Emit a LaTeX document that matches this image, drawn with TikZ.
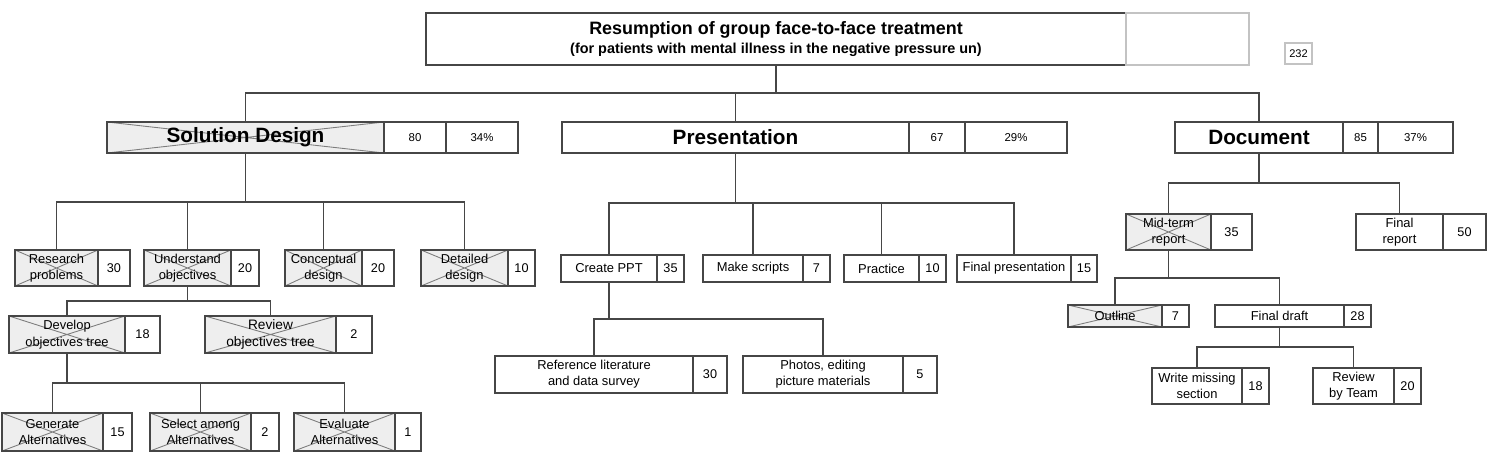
\documentclass[tikz,border=0pt]{standalone}
\usepackage{fontspec}
\setmainfont{Liberation Sans}
\usepackage{tikz}
\usetikzlibrary{positioning}
\usepackage{xcolor}
\definecolor{boxline}{RGB}{70,70,70}
\definecolor{donefill}{RGB}{238,238,238}
\definecolor{crossline}{RGB}{125,125,125}
\definecolor{faint}{RGB}{195,195,195}

\tikzset{
  size/.style 2 args={minimum width=#1*0.2mm, minimum height=#2*0.2mm},
  task/.style={draw=boxline, fill=white, line width=0.6pt, inner sep=0pt, outer sep=0pt,
    align=center, font=\fontsize{7.35}{9.2}\selectfont},
  done/.style={task, fill=donefill, path picture={
    \draw[crossline, line width=0.5pt]
      (path picture bounding box.north west) -- (path picture bounding box.south east)
      (path picture bounding box.south west) -- (path picture bounding box.north east);}},
  head/.style={font=\bfseries\fontsize{11.8}{13}\selectfont},
  num/.style={task, font=\fontsize{7.2}{8}\selectfont},
  headnum/.style={task, font=\fontsize{6.5}{8}\selectfont},
  link/.style={draw=boxline, line width=0.6pt},
}

\begin{document}
\begin{tikzpicture}[x=0.2mm, y=-0.2mm]
  \useasboundingbox (0,0) rectangle (1496,461);

  % project
  \node[task, size={700}{52}, line width=0.8pt] (root) at (776,39)
    {{\bfseries\fontsize{10.2}{12}\selectfont Resumption of group face-to-face treatment}\\[1.5pt]
     {\bfseries\fontsize{8.2}{9}\selectfont (for patients with mental illness in the negative pressure un)}};
  \node[task, draw=faint, size={123}{52}, right=0pt of root] (rootside) {};
  \node[task, draw=faint, size={27}{21}, font=\fontsize{6.3}{7}\selectfont] (total) at (1298.5,53.5) {232};

  % first level
  \node[done, head, size={277}{31}] (sd) at (245.5,137.5) {Solution Design};
  \node[headnum, size={62}{31}, right=0pt of sd] (sdn) {80};
  \node[headnum, size={72}{31}, right=0pt of sdn] (sdp) {34\%};
  \node[task, head, size={347}{31}] (pr) at (735.5,137.5) {Presentation};
  \node[headnum, size={56}{31}, right=0pt of pr] (prn) {67};
  \node[headnum, size={102}{31}, right=0pt of prn] (prp) {29\%};
  \node[task, head, size={168}{31}] (doc) at (1259,137.5) {Document};
  \node[headnum, size={35}{31}, right=0pt of doc] (docn) {85};
  \node[headnum, size={75}{31}, right=0pt of docn] (docp) {37\%};

  \draw[link] (root.south) -- ++(0,28) -| (sd.north);
  \draw[link] (root.south) -- ++(0,28) -| (pr.north);
  \draw[link] (root.south) -- ++(0,28) -| (doc.north);

  % Solution Design
  \node[done, size={83}{36}] (rp) at (56.5,268) {Research\\problems};
  \node[num, size={32}{36}, right=0pt of rp] (rpn) {30};
  \node[done, size={87}{36}] (uo) at (187.5,268) {Understand\\objectives};
  \node[num, size={28}{36}, right=0pt of uo] (uon) {20};
  \node[done, size={77}{36}] (cd) at (323.5,268) {Conceptual\\design};
  \node[num, size={32}{36}, right=0pt of cd] (cdn) {20};
  \node[done, size={87}{36}] (dd) at (464.5,268) {Detailed\\design};
  \node[num, size={27}{36}, right=0pt of dd] (ddn) {10};

  \draw[link] (sd.south) -- ++(0,49) -| (rp.north);
  \draw[link] (sd.south) -- ++(0,49) -| (uo.north);
  \draw[link] (sd.south) -- ++(0,49) -| (cd.north);
  \draw[link] (sd.south) -- ++(0,49) -| (dd.north);

  \node[done, size={116}{37}, font=\fontsize{7.35}{9.8}\selectfont] (dt) at (67,334.5) {Develop\\objectives tree};
  \node[num, size={35}{37}, right=0pt of dt] (dtn) {18};
  \node[done, size={131}{37}, font=\fontsize{7.8}{9.8}\selectfont] (rt) at (270.5,334.5) {Review\\objectives tree};
  \node[num, size={36}{37}, right=0pt of rt] (rtn) {2};

  \draw[link] (uo.south) -- ++(0,15) -| (dt.north);
  \draw[link] (uo.south) -- ++(0,15) -| (rt.north);

  \node[done, size={101}{38}] (ga) at (52.5,432) {Generate\\Alternatives};
  \node[num, size={29}{38}, right=0pt of ga] (gan) {15};
  \node[done, size={101}{38}] (sa) at (200.5,432) {Select among\\Alternatives};
  \node[num, size={28}{38}, right=0pt of sa] (san) {2};
  \node[done, size={101}{38}] (ea) at (344.5,432) {Evaluate\\Alternatives};
  \node[num, size={26}{38}, right=0pt of ea] (ean) {1};

  \draw[link] (dt.south) -- ++(0,30) -| (ga.north);
  \draw[link] (dt.south) -- ++(0,30) -| (sa.north);
  \draw[link] (dt.south) -- ++(0,30) -| (ea.north);

  % Presentation
  \node[task, size={96}{27}] (cp) at (609,268.5) {Create PPT};
  \node[num, size={27}{27}, right=0pt of cp] (cpn) {35};
  \node[task, size={100}{27}] (ms) at (753,268.5) {Make scripts};
  \node[num, size={27}{27}, right=0pt of ms] (msn) {7};
  \node[task, size={75}{27}] (pc) at (881.5,268.5) {Practice};
  \node[num, size={27}{27}, right=0pt of pc] (pcn) {10};
  \node[task, size={114}{27}] (fp) at (1014,268.5) {Final presentation};
  \node[num, size={26}{27}, right=0pt of fp] (fpn) {15};

  \draw[link] (pr.south) -- ++(0,50) -| (cp.north);
  \draw[link] (pr.south) -- ++(0,50) -| (ms.north);
  \draw[link] (pr.south) -- ++(0,50) -| (pc.north);
  \draw[link] (pr.south) -- ++(0,50) -| (fp.north);

  \node[task, size={198}{37}] (rl) at (594,374.5) {Reference literature\\and data survey};
  \node[num, size={34}{37}, right=0pt of rl] (rln) {30};
  \node[task, size={160}{37}] (ph) at (823,374.5) {Photos, editing\\picture materials};
  \node[num, size={34}{37}, right=0pt of ph] (phn) {5};

  \draw[link] (cp.south) -- ++(0,37) -| (rl.north);
  \draw[link] (cp.south) -- ++(0,37) -| (ph.north);

  % Document
  \node[done, size={85}{36}] (mt) at (1168.5,232) {Mid-term\\report};
  \node[num, size={41}{36}, right=0pt of mt] (mtn) {35};
  \node[task, size={87}{36}] (fr) at (1399.5,232) {Final\\report};
  \node[num, size={43}{36}, right=0pt of fr] (frn) {50};

  \draw[link] (doc.south) -- ++(0,30) -| (mt.north);
  \draw[link] (doc.south) -- ++(0,30) -| (fr.north);

  \node[done, size={94}{22}] (ol) at (1115,316) {Outline};
  \node[num, size={27}{22}, right=0pt of ol] (oln) {7};
  \node[task, size={129}{22}] (fd) at (1279.5,316) {Final draft};
  \node[num, size={27}{22}, right=0pt of fd] (fdn) {28};

  \draw[link] (mt.south) -- ++(0,28) -| (ol.north);
  \draw[link] (mt.south) -- ++(0,28) -| (fd.north);

  \node[task, size={90}{36}] (wm) at (1197,386) {Write missing\\section};
  \node[num, size={27}{36}, right=0pt of wm] (wmn) {18};
  \node[task, size={81}{36}] (rb) at (1353.5,386) {Review\\by Team};
  \node[num, size={27}{36}, right=0pt of rb] (rbn) {20};

  \draw[link] (fd.south) -- ++(0,20) -| (wm.north);
  \draw[link] (fd.south) -- ++(0,20) -| (rb.north);
\end{tikzpicture}
\end{document}
